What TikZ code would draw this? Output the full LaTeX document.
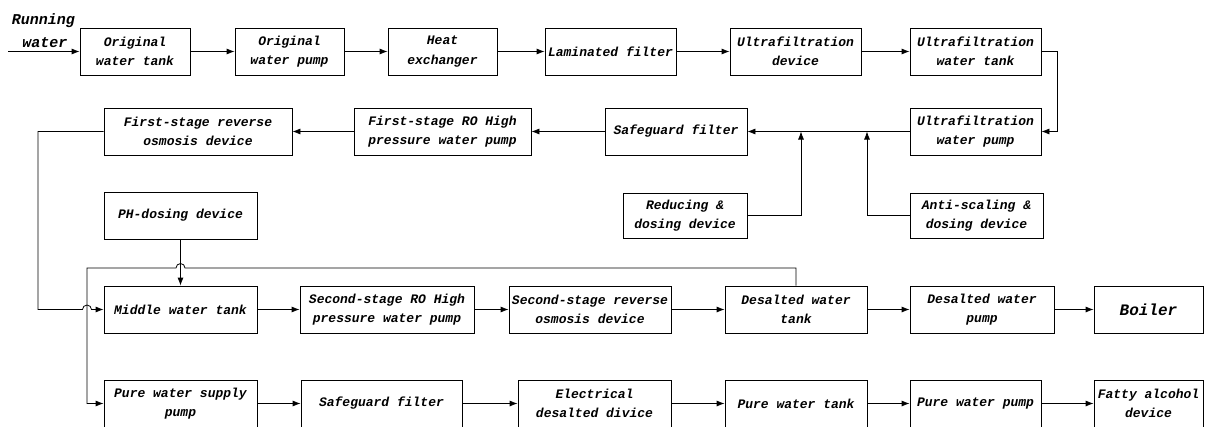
\documentclass[tikz,border=0pt]{standalone}
\usepackage{fontspec}
\setmainfont{Liberation Mono}
\usetikzlibrary{arrows.meta}

\tikzset{
	blk/.style={draw, minimum height=47pt, inner sep=1pt, align=center, font=\bfseries\itshape\fontsize{13}{19.5}\selectfont},
	lbl/.style={inner sep=0pt, font=\bfseries\itshape\fontsize{15}{18}\selectfont},
}

\begin{document}
\begin{tikzpicture}[x=1pt, y=-1pt, >={Latex[length=8pt,width=6pt]}, line width=0.8pt]
		
		\clip (0,0) rectangle (1207,426);
		
		% first row
		\node[lbl] (rw1) at (43.5,21) {Running};
		\node[lbl] (rw2) at (45,43) {water};
		\coordinate (in) at (8,51.5);
		\node[blk, minimum width=110pt] (owt) at (135,51.5) {Original\\water tank};
		\node[blk, minimum width=109pt] (owp) at (289.5,51.5) {Original\\water pump};
		\node[blk, minimum width=109pt] (hex) at (442.5,51.5) {Heat\\exchanger};
		\node[blk, minimum width=131pt] (lam) at (610.5,51.5) {Laminated filter};
		\node[blk, minimum width=131pt] (ufd) at (795.5,51.5) {Ultrafiltration\\device};
		\node[blk, minimum width=131pt] (uft) at (975.5,51.5) {Ultrafiltration\\water tank};
		
		% second row
		\node[blk, minimum width=131pt] (ufp) at (975.5,131.5) {Ultrafiltration\\water pump};
		\node[blk, minimum width=142pt] (sf1) at (676,131.5) {Safeguard filter};
		\node[blk, minimum width=177pt] (ro1p) at (442.5,131.5) {First-stage RO High\\pressure water pump};
		\node[blk, minimum width=188pt] (ro1) at (198,131.5) {First-stage reverse\\osmosis device};
		\coordinate (jr) at (801,131.5);
		\coordinate (ja) at (867,131.5);
		
		% dosing
		\node[blk, minimum width=124pt, minimum height=45pt] (red) at (685,215.5) {Reducing \&\\dosing device};
		\node[blk, minimum width=133pt, minimum height=45pt] (anti) at (976.5,215.5) {Anti-scaling \&\\dosing device};
		\node[blk, minimum width=153pt] (ph) at (180.5,215.5) {PH-dosing device};
		
		% third row
		\node[blk, minimum width=153pt] (mid) at (180.5,309.5) {Middle water tank};
		\node[blk, minimum width=174pt] (ro2p) at (387,309.5) {Second-stage RO High\\pressure water pump};
		\node[blk, minimum width=162pt] (ro2) at (590,309.5) {Second-stage reverse\\osmosis device};
		\node[blk, minimum width=142pt] (dwt) at (796,309.5) {Desalted water\\tank};
		\node[blk, minimum width=144pt] (dwp) at (982,309.5) {Desalted water\\pump};
		\node[blk, minimum width=109pt, font=\bfseries\itshape\fontsize{16}{19.5}\selectfont] (boi) at (1148.5,309.5) {Boiler};
		
		% fourth row
		\node[blk, minimum width=153pt] (pws) at (180.5,403.5) {Pure water supply\\pump};
		\node[blk, minimum width=161pt] (sf2) at (381.5,403.5) {Safeguard filter};
		\node[blk, minimum width=153pt] (edd) at (594.5,403.5) {Electrical\\desalted divice};
		\node[blk, minimum width=142pt] (pwt) at (796,403.5) {Pure water tank};
		\node[blk, minimum width=131pt] (pwp) at (975.5,403.5) {Pure water pump};
		\node[blk, minimum width=109pt] (fad) at (1148.5,403.5) {Fatty alcohol\\device};
		
		\path[->]
		(in) edge (owt)
		(owt) edge (owp)
		(owp) edge (hex)
		(hex) edge (lam)
		(lam) edge (ufd)
		(ufd) edge (uft)
		(ufp) edge (sf1)
		(sf1) edge (ro1p)
		(ro1p) edge (ro1)
		(ph) edge (mid)
		(mid) edge (ro2p)
		(ro2p) edge (ro2)
		(ro2) edge (dwt)
		(dwt) edge (dwp)
		(dwp) edge (boi)
		(pws) edge (sf2)
		(sf2) edge (edd)
		(edd) edge (pwt)
		(pwt) edge (pwp)
		(pwp) edge (fad)
		;
		
		\draw[->] (uft.east) -- ++(16,0) |- (ufp.east);
		\draw[->] (red.east) -| (jr);
		\draw[->] (anti.west) -| (ja);
		\draw[->] (ro1.west) -- (38,131.5) -- (38,309.5) -- (82.5,309.5)
		arc[start angle=180, end angle=0, radius=4.5pt] -- (mid.west);
		\draw[->] (dwt.north) |- (185,268)
		arc[start angle=0, end angle=180, radius=4.5pt] -- (87,268) |- (pws.west);
		\end{tikzpicture}
\end{document}
